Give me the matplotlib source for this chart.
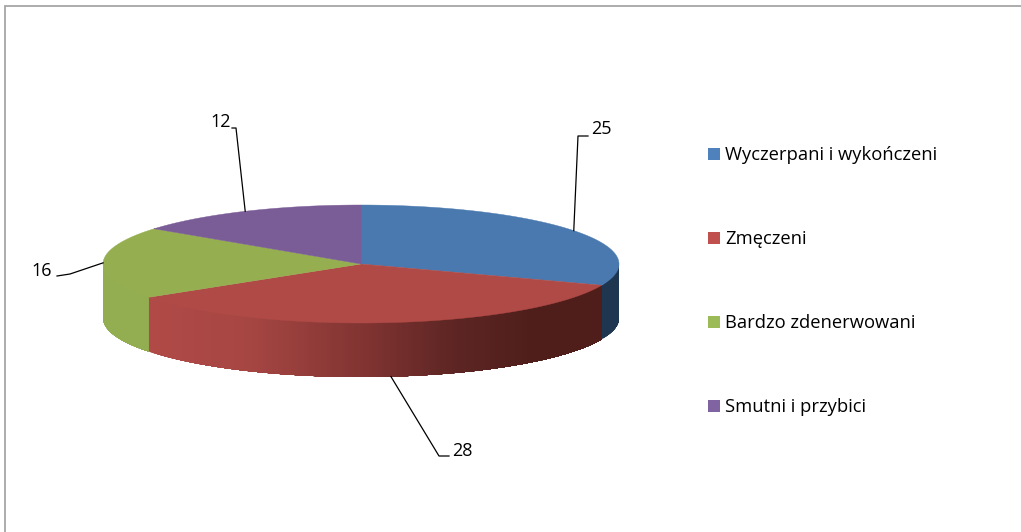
import numpy as np
import matplotlib
matplotlib.use("Agg")
import matplotlib.pyplot as plt
from matplotlib.patches import Patch, Polygon
from matplotlib.colors import to_rgb

categories = ["Wyczerpani i wykończeni", "Zmęczeni", "Bardzo zdenerwowani", "Smutni i przybici"]
values = [25, 28, 16, 12]
top_colors = ["#4A79AF", "#B04A46", "#94AE50", "#7A5C96"]
legend_colors = ["#4F81BD", "#C0504D", "#9BBB59", "#8064A2"]
label_points = [(601, 129), (462, 451), (42, 271), (221, 122)]
elbow_points = [[(578, 136), (588, 136)], [(439, 456), (449, 456)], [(70, 274), (57, 276)], [(236, 128), (232, 128)]]

CX, CY, RX, RY, DEPTH = 361, 264, 258, 59, 54
FONT = ["Open Sans", "DejaVu Sans"]

fig = plt.figure(figsize=(10.21, 5.32), dpi=100)
ax = fig.add_axes([0, 0, 1, 1])
ax.set_xlim(0, 1021)
ax.set_ylim(532, 0)
ax.axis("off")

ax.plot([5, 5, 1021], [532, 6, 6], color="#A6A6A6", lw=1.3, solid_joinstyle="miter", zorder=1)

def px(a):
    return CX + RX * np.sin(np.radians(a))

def py(a):
    return CY - RY * np.cos(np.radians(a))

total = sum(values)
edges = np.concatenate([[0], np.cumsum(values)]) / total * 360

# side walls
stops_x = [148, 250, 370, 450, 530, 620]
stops_rgb = np.array([to_rgb(c) for c in ["#B04A47", "#A64643", "#7F3331", "#5E2624", "#4F1E1B", "#4F1E1B"]])

def side_color(i, x):
    if i == 1:
        return tuple(np.interp(x, stops_x, stops_rgb[:, k]) for k in range(3))
    if i == 0:
        return to_rgb("#1E3650")
    return to_rgb("#93AE50")

for i in range(len(values)):
    lo, hi = max(edges[i], 90), min(edges[i + 1], 270)
    if hi <= lo:
        continue
    # Painter's order from the left edge of the slice, each band reaching past its neighbour
    angs = np.linspace(hi, lo, max(int((hi - lo) * 1.5), 2) + 1)
    for a0, a1 in zip(angs[:-1], angs[1:]):
        arc = np.linspace(a0, lo, 120)
        pts = list(zip(px(arc), py(arc))) + list(zip(px(arc[::-1]), py(arc[::-1]) + DEPTH))
        col = side_color(i, (px(a0) + px(a1)) / 2)
        ax.add_patch(Polygon(pts, closed=True, facecolor=col, edgecolor="none", zorder=2))

# top surface
for i in range(len(values)):
    angs = np.linspace(edges[i], edges[i + 1], 200)
    pts = [(CX, CY)] + list(zip(px(angs), py(angs)))
    ax.add_patch(Polygon(pts, closed=True, facecolor=top_colors[i], edgecolor=top_colors[i], lw=0.3, zorder=3))

# data labels with leaders
for i, v in enumerate(values):
    mid = (edges[i] + edges[i + 1]) / 2
    x0, y0 = px(mid), py(mid)
    if 90 < mid < 270:
        y0 += DEPTH
    xs = [x0] + [p[0] for p in elbow_points[i]]
    ys = [y0] + [p[1] for p in elbow_points[i]]
    ax.plot(xs, ys, color="black", lw=0.9, zorder=4)
    ax.text(*label_points[i], str(v), ha="center", va="center", fontsize=13, family=FONT, color="black")

handles = [Patch(facecolor=c, edgecolor="none", label=n) for c, n in zip(legend_colors, categories)]
leg = ax.legend(handles=handles, loc="upper left", bbox_to_anchor=(708 / 1021, 1 - 146.5 / 532),
                bbox_transform=ax.transAxes, frameon=False, borderpad=0, borderaxespad=0,
                prop={"family": FONT, "size": 13.2}, labelcolor="black",
                handlelength=0.655, handleheight=0.6, handletextpad=0.27, labelspacing=3.6)

fig.savefig("out.png", dpi=100, facecolor="white")
